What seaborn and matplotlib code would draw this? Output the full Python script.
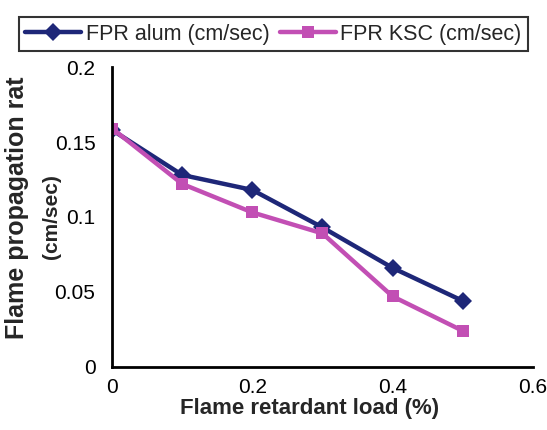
import matplotlib
matplotlib.use("Agg")
import matplotlib.pyplot as plt
import seaborn as sns
import pandas as pd

load = [0, 0.1, 0.2, 0.3, 0.4, 0.5]
fpr_alum = [0.158, 0.128, 0.118, 0.093, 0.066, 0.044]
fpr_ksc = [0.159, 0.122, 0.103, 0.089, 0.047, 0.024]
series_names = ["FPR alum (cm/sec)", "FPR KSC (cm/sec)"]
x_ticks = [0, 0.2, 0.4, 0.6]
y_ticks = [0, 0.05, 0.1, 0.15, 0.2]
y_tick_labels = ["0", "0.05", "0.1", "0.15", "0.2"]

sns.set_style("white")
plt.rcParams["font.family"] = ["Liberation Sans", "DejaVu Sans"]

df = pd.DataFrame({
    "load": load * 2,
    "value": fpr_alum + fpr_ksc,
    "series": [series_names[0]] * len(load) + [series_names[1]] * len(load),
})

fig = plt.figure(figsize=(5.47, 4.30), dpi=100)
ax = fig.add_axes([0.205, 0.147, 0.769, 0.697])

palette = {series_names[0]: "#1E2778", series_names[1]: "#C24FB4"}
sns.lineplot(data=df, x="load", y="value", hue="series", style="series",
             markers={series_names[0]: "D", series_names[1]: "s"},
             dashes=False, palette=palette, linewidth=3.2, markersize=9,
             markeredgewidth=0, ax=ax, legend=True)

ax.set_xlim(0, 0.6)
ax.set_ylim(0, 0.2)
ax.set_xticks(x_ticks)
ax.set_xticklabels(["0", "0.2", "0.4", "0.6"], fontsize=15)
ax.set_yticks(y_ticks)
ax.set_yticklabels(y_tick_labels, fontsize=15)
for s in ["top", "right"]:
    ax.spines[s].set_visible(False)
for s in ["left", "bottom"]:
    ax.spines[s].set_color("black")
    ax.spines[s].set_linewidth(2)
ax.tick_params(axis="y", direction="out", length=6, width=2, colors="black", pad=6)
ax.tick_params(axis="x", direction="inout", length=10, width=2, colors="black", pad=3)
ax.set_xlabel("Flame retardant load (%)", fontsize=16, fontweight="bold")
ax.xaxis.set_label_coords(0.47, -0.105)
ax.set_ylabel("")
ax.text(-0.225, 0.53, "Flame propagation rat", transform=ax.transAxes, rotation=90,
        ha="center", va="center", fontsize=18, fontweight="bold")
ax.text(-0.145, 0.5, "(cm/sec)", transform=ax.transAxes, rotation=90,
        ha="center", va="center", fontsize=15, fontweight="bold")

handles, labels = ax.get_legend_handles_labels()
ax.legend().remove()
leg = fig.legend(handles, labels, loc="upper center", bbox_to_anchor=(0.5, 0.985), ncol=2,
                 frameon=True, fancybox=False, fontsize=15.5, handlelength=2.6,
                 columnspacing=0.5, handletextpad=0.2, borderpad=0.3)
leg.get_frame().set_edgecolor("black")
leg.get_frame().set_linewidth(1.5)

fig.savefig("out.png", dpi=100)
